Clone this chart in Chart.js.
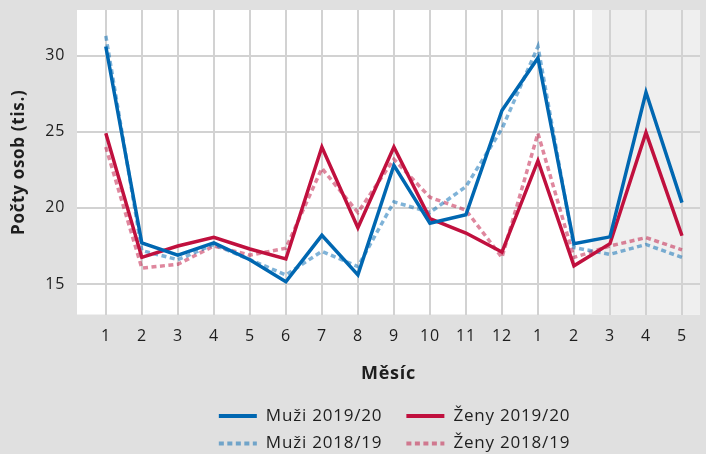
<!DOCTYPE html>
<html>
<head>
<meta charset="utf-8">
<script src="https://cdn.jsdelivr.net/npm/chart.js@4"></script>
<style>
html,body{margin:0;padding:0;background:#e0e0e0;}
#wrap{width:706px;height:454px;position:relative;}
</style>
</head>
<body>
<div id="wrap"><canvas id="c" width="706" height="454"></canvas></div>
<script>
// ---- data ----
const months = ['1','2','3','4','5','6','7','8','9','10','11','12','1','2','3','4','5'];
const muzi1920 = [30.6, 17.7, 16.9, 17.7, 16.6, 15.15, 18.2, 15.6, 22.8, 19.0, 19.55, 26.4, 29.85, 17.65, 18.1, 27.6, 20.35];
const zeny1920 = [24.9, 16.75, 17.5, 18.07, 17.3, 16.65, 24.0, 18.7, 24.0, 19.3, 18.35, 17.1, 23.1, 16.2, 17.65, 24.95, 18.17];
const muzi1819 = [31.3, 17.2, 16.6, 17.6, 16.6, 15.6, 17.15, 16.15, 20.4, 19.7, 21.4, 25.2, 30.6, 17.4, 16.95, 17.6, 16.75];
const zeny1819 = [24.0, 16.05, 16.3, 17.5, 16.9, 17.35, 22.6, 19.7, 23.2, 20.7, 19.85, 16.75, 24.9, 16.75, 17.5, 18.05, 17.25];
const yTicks = [15, 20, 25, 30];
const seriesNames = ['Muži 2019/20', 'Ženy 2019/20', 'Muži 2018/19', 'Ženy 2018/19'];
const xTitle = 'Měsíc';
const yTitle = 'Počty osob (tis.)';
const shadeFrom = 13.5; // shaded period starts between month 2 and 3

// ---- styles ----
const BLUE = '#0067b1';
const RED = '#c0103e';
const BLUE_L = 'rgba(0,103,177,0.5)';
const RED_L = 'rgba(192,16,62,0.5)';
const FONT = '"Open Sans", sans-serif';
const TEXT = '#1e1e1e';
const GRID = '#d2d2d2';

const pts = arr => arr.map((v, i) => ({x: i, y: v}));

const bgPlugin = {
  id: 'bg',
  beforeDraw(chart) {
    const {ctx, chartArea: a, scales: {x}} = chart;
    ctx.letterSpacing = '0.7px';
    ctx.save();
    ctx.fillStyle = '#e0e0e0';
    ctx.fillRect(0, 0, chart.width, chart.height);
    ctx.fillStyle = '#ffffff';
    ctx.fillRect(a.left, a.top, a.right - a.left, a.bottom - a.top);
    const sx = x.getPixelForValue(shadeFrom);
    ctx.fillStyle = '#efefef';
    ctx.fillRect(sx, a.top, a.right - sx, a.bottom - a.top);
    ctx.restore();
  }
};

const legendPlugin = {
  id: 'gridLegend',
  afterDraw(chart) {
    const {ctx, chartArea: a} = chart;
    const ds = chart.data.datasets;
    ctx.save();
    ctx.font = '17px ' + FONT;
    ctx.letterSpacing = '0.8px';
    ctx.textBaseline = 'middle';
    ctx.textAlign = 'left';
    const boxW = 38, gapT = 9, gapC = 24, rowH = 27.5;
    const w0 = Math.max(ctx.measureText(ds[0].label).width, ctx.measureText(ds[2].label).width);
    const w1 = Math.max(ctx.measureText(ds[1].label).width, ctx.measureText(ds[3].label).width);
    const total = boxW + gapT + w0 + gapC + boxW + gapT + w1;
    const cx = (a.left + a.right) / 2 + 6;
    const x0 = cx - total / 2;
    const colX = [x0, x0 + boxW + gapT + w0 + gapC];
    const y0 = chart.height - 38;
    ds.forEach((d, i) => {
      const col = i % 2, row = Math.floor(i / 2);
      const x = colX[col], y = y0 + row * rowH;
      ctx.strokeStyle = d.borderColor;
      ctx.lineWidth = 4;
      ctx.lineCap = 'butt';
      ctx.setLineDash(d.borderDash || []);
      ctx.beginPath();
      ctx.moveTo(x, y);
      ctx.lineTo(x + boxW, y);
      ctx.stroke();
      ctx.setLineDash([]);
      ctx.fillStyle = TEXT;
      ctx.fillText(d.label, x + boxW + gapT, y);
    });
    ctx.restore();
  }
};

new Chart(document.getElementById('c'), {
  type: 'line',
  data: {
    datasets: [
      {label: seriesNames[0], data: pts(muzi1920), borderColor: BLUE, borderWidth: 3.5},
      {label: seriesNames[1], data: pts(zeny1920), borderColor: RED, borderWidth: 3.5},
      {label: seriesNames[2], data: pts(muzi1819), borderColor: BLUE_L, borderWidth: 3.5, borderDash: [5, 3.5]},
      {label: seriesNames[3], data: pts(zeny1819), borderColor: RED_L, borderWidth: 3.5, borderDash: [5, 3.5]}
    ].map(d => Object.assign(d, {fill: false, pointRadius: 0, pointHoverRadius: 0, tension: 0, borderJoinStyle: 'miter', borderCapStyle: 'butt'}))
  },
  options: {
    responsive: false,
    animation: false,
    devicePixelRatio: 1,
    layout: {padding: {left: 5, right: 6, top: 10, bottom: 65}},
    plugins: {legend: {display: false}, tooltip: {enabled: false}},
    scales: {
      x: {
        type: 'linear',
        min: -0.8,
        max: 16.5,
        afterBuildTicks: s => { s.ticks = months.map((m, i) => ({value: i})); },
        afterFit: s => { s.height = 74.5; s.paddingLeft = 0; s.paddingRight = 0; },
        ticks: {
          callback: v => months[v],
          font: {family: FONT, size: 16},
          color: TEXT,
          padding: 12,
          autoSkip: false,
          maxRotation: 0
        },
        grid: {color: GRID, lineWidth: 2, drawTicks: false},
        border: {display: false},
        title: {display: true, text: xTitle, font: {family: FONT, size: 18, weight: 'bold'}, color: TEXT, padding: {top: 4, bottom: 4}}
      },
      y: {
        min: 13,
        max: 33,
        afterBuildTicks: s => { s.ticks = yTicks.map(v => ({value: v})); },
        afterFit: s => { s.width = 72; s.paddingTop = 0; s.paddingBottom = 0; },
        ticks: {
          font: {family: FONT, size: 16},
          color: TEXT,
          padding: 12
        },
        grid: {color: GRID, lineWidth: 2, drawTicks: false},
        border: {display: false},
        title: {display: true, text: yTitle, font: {family: FONT, size: 17, weight: 'bold'}, color: TEXT, padding: {top: 4, bottom: 4}}
      }
    }
  },
  plugins: [bgPlugin, legendPlugin]
});
</script>
</body>
</html>
